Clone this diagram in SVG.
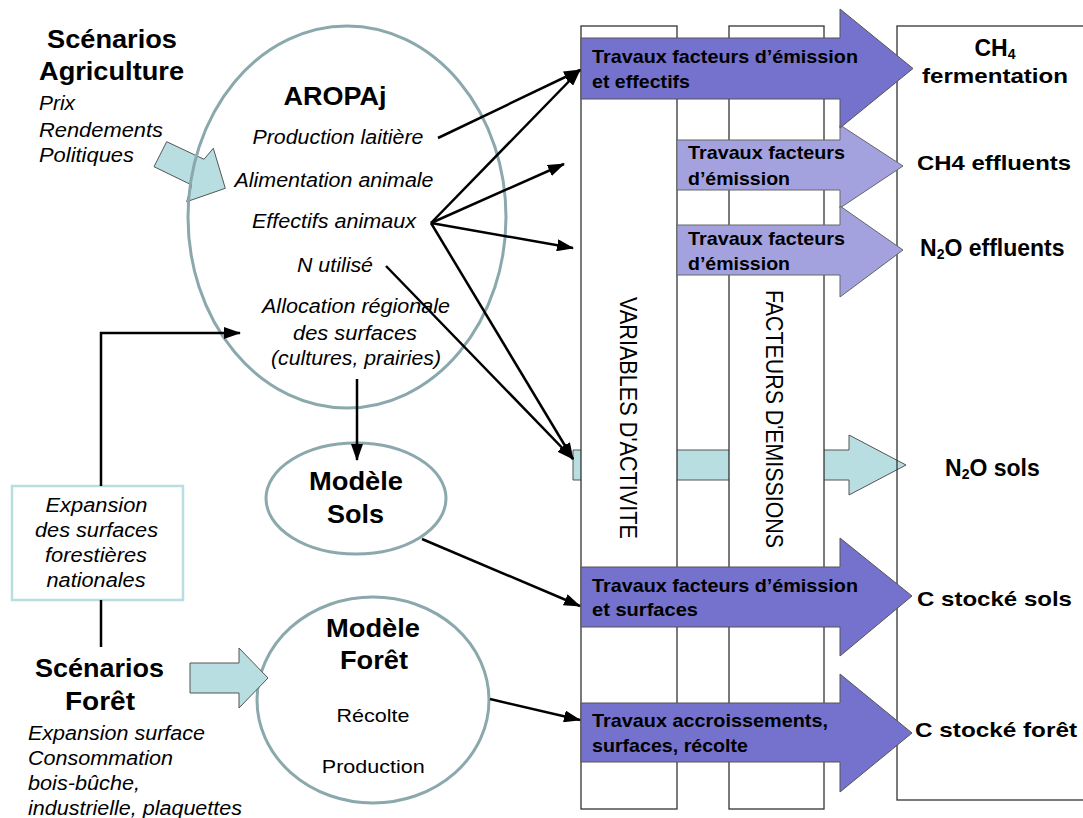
<svg xmlns="http://www.w3.org/2000/svg" width="1083" height="818" viewBox="0 0 1083 818">
<style>
text{font-family:"Liberation Sans",Arial,sans-serif;fill:#000}
.b{font-weight:bold}
.i{font-style:italic}
.m{text-anchor:middle}
.ell{fill:none;stroke:#8BA9AC;stroke-width:3}
.col{fill:#fff;stroke:#333;stroke-width:1.3}
.dark{fill:#7472CC;stroke:#555;stroke-width:1}
.light{fill:#A4A2DE;stroke:#666;stroke-width:1}
.cyan{fill:#B8DEE2;stroke:#555;stroke-width:1}
.con{fill:none;stroke:#000;stroke-width:2.5}
</style>
<defs>
<marker id="ah" markerUnits="userSpaceOnUse" markerWidth="17" markerHeight="12" refX="16" refY="6" orient="auto">
<path d="M0,0 L17,6 L0,12 z" fill="#000"/>
</marker>
</defs>

<g id="n2o-sols-arrow">
<polygon class="cyan" points="573,450 849,450 849,435 906,465 849,495 849,480 573,480"/>
</g>
<g id="col-variables">
<rect class="col" x="581" y="26" width="96" height="783"/>
<text transform="translate(620,297) rotate(90)" font-size="23" textLength="242" lengthAdjust="spacingAndGlyphs">VARIABLES D'ACTIVITE</text>
</g>
<g id="col-facteurs">
<rect class="col" x="729" y="26" width="95" height="783"/>
<text transform="translate(766,290) rotate(90)" font-size="23" textLength="258" lengthAdjust="spacingAndGlyphs">FACTEURS D'EMISSIONS</text>
</g>
<g id="col-results">
<rect x="897" y="26" width="200" height="774" fill="none" stroke="#333" stroke-width="1.3"/>
</g>

<g id="arrow-ch4-effluents">
<polygon class="light" points="677,140 840,140 840,125 903,166 840,208 840,190 677,190"/>
<text class="b" x="688" y="159" font-size="19" textLength="157" lengthAdjust="spacingAndGlyphs">Travaux facteurs</text>
<text class="b" x="688" y="185" font-size="19" textLength="102" lengthAdjust="spacingAndGlyphs">d’émission</text>
</g>
<g id="arrow-n2o-effluents">
<polygon class="light" points="677,225 840,225 840,206 903,250 840,297 840,275 677,275"/>
<text class="b" x="688" y="245" font-size="19" textLength="157" lengthAdjust="spacingAndGlyphs">Travaux facteurs</text>
<text class="b" x="688" y="270" font-size="19" textLength="102" lengthAdjust="spacingAndGlyphs">d’émission</text>
</g>
<g id="arrow-ch4-fermentation">
<polygon class="dark" points="581,38 840,38 840,9 913,68.5 840,128 840,99 581,99"/>
<text class="b" x="592" y="63" font-size="19" textLength="266" lengthAdjust="spacingAndGlyphs">Travaux facteurs d’émission</text>
<text class="b" x="592" y="88" font-size="19" textLength="98" lengthAdjust="spacingAndGlyphs">et effectifs</text>
</g>
<g id="arrow-c-sols">
<polygon class="dark" points="581,567 840,567 840,538 912,596 840,656 840,627 581,627"/>
<text class="b" x="592" y="592" font-size="19" textLength="266" lengthAdjust="spacingAndGlyphs">Travaux facteurs d’émission</text>
<text class="b" x="592" y="616" font-size="19" textLength="106" lengthAdjust="spacingAndGlyphs">et surfaces</text>
</g>
<g id="arrow-c-foret">
<polygon class="dark" points="581,703 840,703 840,674 912,733 840,792 840,762 581,762"/>
<text class="b" x="592" y="727" font-size="19" textLength="236" lengthAdjust="spacingAndGlyphs">Travaux accroissements,</text>
<text class="b" x="592" y="752" font-size="19" textLength="156" lengthAdjust="spacingAndGlyphs">surfaces, récolte</text>
</g>

<g id="labels-results">
<text class="b m" x="995" y="56" font-size="23">CH<tspan font-size="14" dy="3">4</tspan></text>
<text class="b m" x="995" y="83" font-size="21" textLength="146" lengthAdjust="spacingAndGlyphs">fermentation</text>
<text class="b" x="917" y="170" font-size="21" textLength="154" lengthAdjust="spacingAndGlyphs">CH4 effluents</text>
<text class="b" x="920" y="256" font-size="23">N<tspan font-size="14" dy="3">2</tspan><tspan dy="-3">O effluents</tspan></text>
<text class="b" x="945" y="476" font-size="23">N<tspan font-size="14" dy="3">2</tspan><tspan dy="-3">O sols</tspan></text>
<text class="b" x="917" y="606" font-size="21" textLength="155" lengthAdjust="spacingAndGlyphs">C stocké sols</text>
<text class="b" x="915" y="737" font-size="21" textLength="162" lengthAdjust="spacingAndGlyphs">C stocké forêt</text>
</g>

<g id="scenarios-agriculture">
<polygon class="cyan" points="166.7,141.7 204,159.3 213.3,148.3 225.3,188.3 186.7,201.7 191.7,185 154,166.7"/>
<text class="b m" x="112" y="48" font-size="26" textLength="130" lengthAdjust="spacingAndGlyphs">Scénarios</text>
<text class="b m" x="111.5" y="80" font-size="26" textLength="145" lengthAdjust="spacingAndGlyphs">Agriculture</text>
<text class="i" x="39" y="110" font-size="21" textLength="36" lengthAdjust="spacingAndGlyphs">Prix</text>
<text class="i" x="39" y="137" font-size="21" textLength="124" lengthAdjust="spacingAndGlyphs">Rendements</text>
<text class="i" x="39" y="162" font-size="21" textLength="95" lengthAdjust="spacingAndGlyphs">Politiques</text>
</g>

<g id="aropaj">
<ellipse class="ell" cx="347" cy="217" rx="159" ry="191"/>
<text class="b m" x="335" y="105" font-size="25" textLength="103" lengthAdjust="spacingAndGlyphs">AROPAj</text>
<text class="i m" x="338" y="144" font-size="20" textLength="171" lengthAdjust="spacingAndGlyphs">Production laitière</text>
<text class="i m" x="334" y="187" font-size="20" textLength="199" lengthAdjust="spacingAndGlyphs">Alimentation animale</text>
<text class="i m" x="334" y="228" font-size="20" textLength="164" lengthAdjust="spacingAndGlyphs">Effectifs animaux</text>
<text class="i m" x="335" y="272" font-size="20" textLength="76" lengthAdjust="spacingAndGlyphs">N utilisé</text>
<text class="i m" x="356" y="313" font-size="20" textLength="188" lengthAdjust="spacingAndGlyphs">Allocation régionale</text>
<text class="i m" x="355" y="340" font-size="20" textLength="124" lengthAdjust="spacingAndGlyphs">des surfaces</text>
<text class="i m" x="356" y="365" font-size="20" textLength="170" lengthAdjust="spacingAndGlyphs">(cultures, prairies)</text>
</g>

<g id="modele-sols">
<ellipse class="ell" cx="356" cy="498.5" rx="90" ry="55.5"/>
<text class="b m" x="356" y="490" font-size="25" textLength="94" lengthAdjust="spacingAndGlyphs">Modèle</text>
<text class="b m" x="355.5" y="523" font-size="25" textLength="57" lengthAdjust="spacingAndGlyphs">Sols</text>
</g>

<g id="modele-foret">
<ellipse class="ell" cx="373" cy="700" rx="116" ry="103"/>
<text class="b m" x="373" y="637" font-size="25" textLength="94" lengthAdjust="spacingAndGlyphs">Modèle</text>
<text class="b m" x="374" y="669" font-size="25" textLength="68" lengthAdjust="spacingAndGlyphs">Forêt</text>
<text class="m" x="373" y="722" font-size="19" textLength="73" lengthAdjust="spacingAndGlyphs">Récolte</text>
<text class="m" x="373.3" y="773" font-size="19" textLength="103" lengthAdjust="spacingAndGlyphs">Production</text>
</g>

<g id="expansion-box">
<rect x="12" y="486" width="171" height="114" fill="#fff" stroke="#B8DEE2" stroke-width="2.5"/>
<text class="i m" x="96.5" y="512" font-size="20" textLength="102" lengthAdjust="spacingAndGlyphs">Expansion</text>
<text class="i m" x="96.5" y="537" font-size="20" textLength="123" lengthAdjust="spacingAndGlyphs">des surfaces</text>
<text class="i m" x="96" y="562" font-size="20" textLength="102" lengthAdjust="spacingAndGlyphs">forestières</text>
<text class="i m" x="96" y="587" font-size="20" textLength="99" lengthAdjust="spacingAndGlyphs">nationales</text>
</g>

<g id="scenarios-foret">
<polygon class="cyan" points="190,663 239,663 239,648 268,678 239,708 239,693 190,693"/>
<text class="b m" x="99.5" y="677" font-size="26" textLength="129" lengthAdjust="spacingAndGlyphs">Scénarios</text>
<text class="b m" x="100" y="710" font-size="26" textLength="70" lengthAdjust="spacingAndGlyphs">Forêt</text>
<text class="i" x="28" y="740" font-size="20" textLength="177" lengthAdjust="spacingAndGlyphs">Expansion surface</text>
<text class="i" x="28" y="765" font-size="20" textLength="145" lengthAdjust="spacingAndGlyphs">Consommation</text>
<text class="i" x="28" y="790" font-size="20" textLength="112" lengthAdjust="spacingAndGlyphs">bois-bûche,</text>
<text class="i" x="28" y="815" font-size="20" textLength="214" lengthAdjust="spacingAndGlyphs">industrielle, plaquettes</text>
</g>

<g id="connectors">
<line class="con" x1="438" y1="138" x2="580" y2="70" marker-end="url(#ah)"/>
<line class="con" x1="431" y1="223" x2="580" y2="70" marker-end="url(#ah)"/>
<line class="con" x1="431" y1="223" x2="564" y2="164" marker-end="url(#ah)"/>
<line class="con" x1="431" y1="223" x2="573" y2="248" marker-end="url(#ah)"/>
<line class="con" x1="431" y1="223" x2="573" y2="459" marker-end="url(#ah)"/>
<line class="con" x1="386" y1="266" x2="573" y2="459" marker-end="url(#ah)"/>
<line class="con" x1="357" y1="379" x2="357" y2="460" marker-end="url(#ah)"/>
<line class="con" x1="422" y1="539" x2="580" y2="606" marker-end="url(#ah)"/>
<line class="con" x1="490" y1="699" x2="580" y2="720" marker-end="url(#ah)"/>
<polyline class="con" points="101,486 101,333 240,333" marker-end="url(#ah)"/>
<line class="con" x1="101" y1="600" x2="101" y2="647"/>
</g>
</svg>
